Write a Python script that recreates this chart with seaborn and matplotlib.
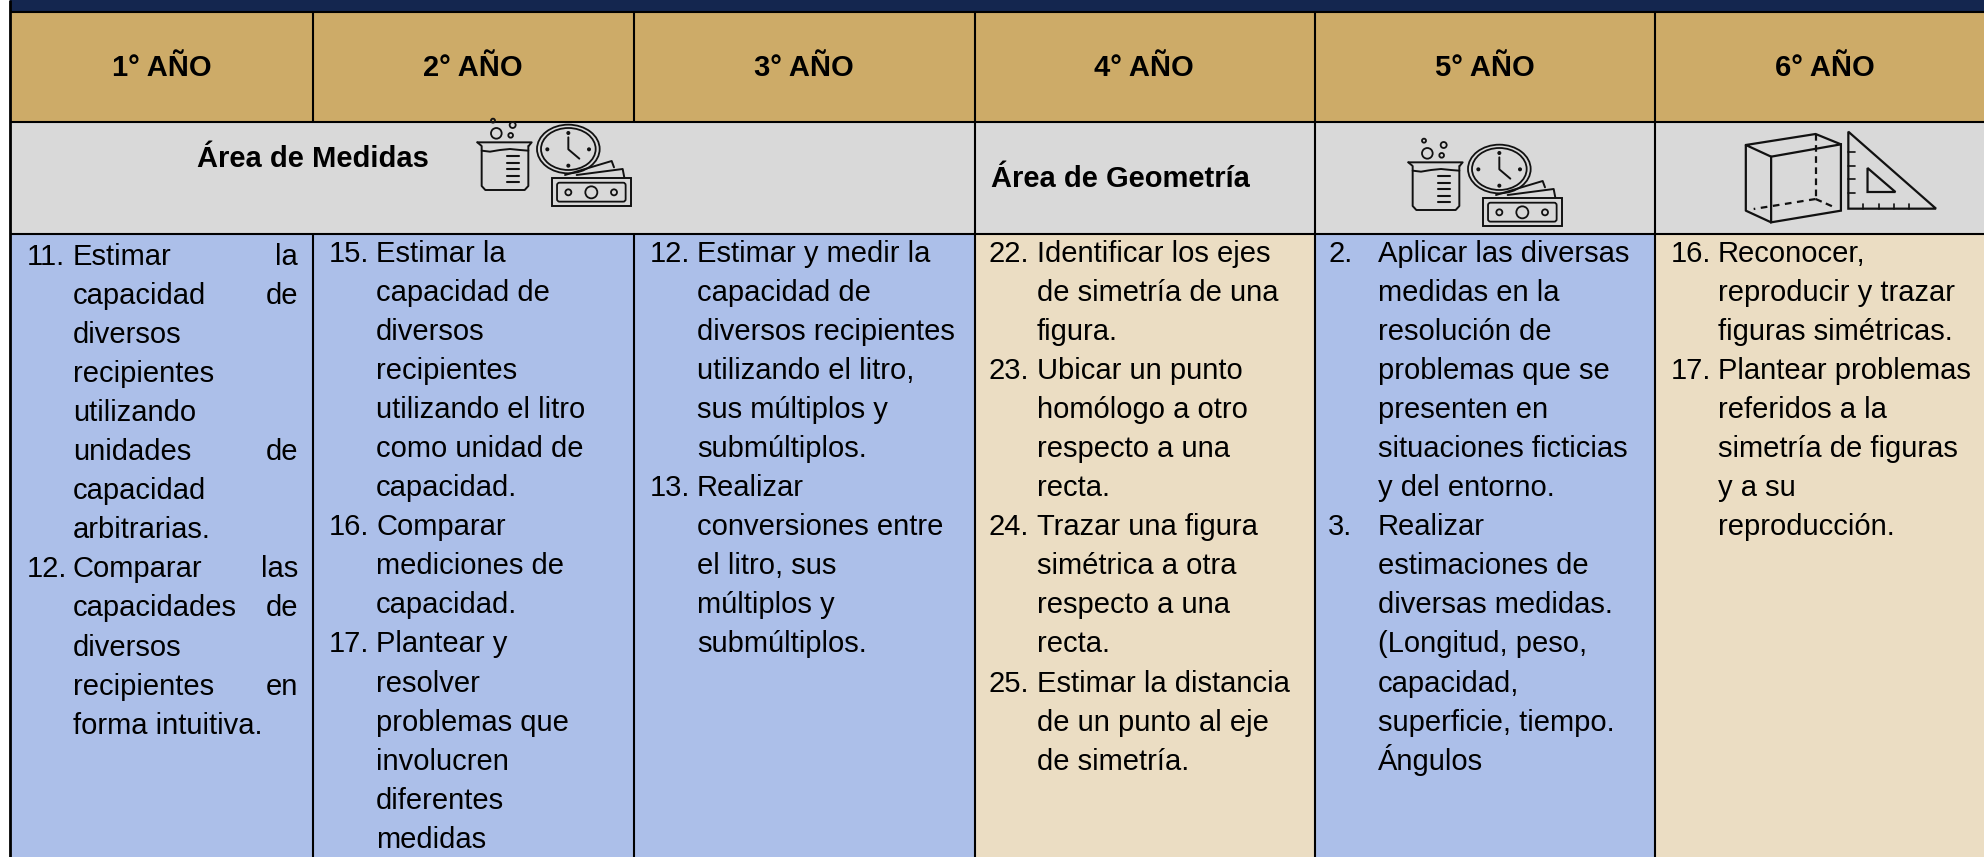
import numpy as np
import matplotlib
matplotlib.use("Agg")
import matplotlib.pyplot as plt
from matplotlib.colors import ListedColormap
from matplotlib.patches import Circle, Ellipse, FancyBboxPatch, Polygon, Rectangle
import seaborn as sns

# Table content
years = ["1° AÑO", "2° AÑO", "3° AÑO", "4° AÑO", "5° AÑO", "6° AÑO"]
area_medidas = "Área de Medidas"
area_geometria = "Área de Geometría"

# "|" marks a justified line: first word on the left, last word on the right
col1 = [("11.", ["Estimar|la", "capacidad|de", "diversos", "recipientes", "utilizando",
                 "unidades|de", "capacidad", "arbitrarias."]),
        ("12.", ["Comparar|las", "capacidades|de", "diversos", "recipientes|en", "forma intuitiva."])]
col2 = [("15.", ["Estimar la", "capacidad de", "diversos", "recipientes", "utilizando el litro",
                 "como unidad de", "capacidad."]),
        ("16.", ["Comparar", "mediciones de", "capacidad."]),
        ("17.", ["Plantear y", "resolver", "problemas que", "involucren", "diferentes", "medidas"])]
col3 = [("12.", ["Estimar y medir la", "capacidad de", "diversos recipientes", "utilizando el litro,",
                 "sus múltiplos y", "submúltiplos."]),
        ("13.", ["Realizar", "conversiones entre", "el litro, sus", "múltiplos y", "submúltiplos."])]
col4 = [("22.", ["Identificar los ejes", "de simetría de una", "figura."]),
        ("23.", ["Ubicar un punto", "homólogo a otro", "respecto a una", "recta."]),
        ("24.", ["Trazar una figura", "simétrica a otra", "respecto a una", "recta."]),
        ("25.", ["Estimar la distancia", "de un punto al eje", "de simetría."])]
col5 = [("2.", ["Aplicar las diversas", "medidas en la", "resolución de", "problemas que se",
                "presenten en", "situaciones ficticias", "y del entorno."]),
        ("3.", ["Realizar", "estimaciones de", "diversas medidas.", "(Longitud, peso,", "capacidad,",
                "superficie, tiempo.", "Ángulos"])]
col6 = [("16.", ["Reconocer,", "reproducir y trazar", "figuras simétricas."]),
        ("17.", ["Plantear problemas", "referidos a la", "simetría de figuras", "y a su", "reproducción."])]
columns = [col1, col2, col3, col4, col5, col6]

# Layout in pixels of the output image
W, H = 1984, 857
col_edges = [10, 313, 634, 975, 1315, 1655, 1984]
row_edges = [0, 12, 122, 234, 857]
header_x = [162, 473, 804, 1144, 1485, 1825]
num_x = [27, 329, 650, 989, 1328, 1671]
text_x = [73, 376, 697, 1037, 1378, 1718]
first_baseline = [265, 262, 262, 262, 262, 262]
line_pitch = 39.05
justify_right = 298

WHITE, NAVY, TAN, GRAY, BLUE, CREAM = range(6)
palette = ["#FFFFFF", "#14264F", "#CDAB68", "#D9D9D9", "#ACBFE9", "#EBDDC3"]
body_codes = [BLUE, BLUE, BLUE, CREAM, BLUE, CREAM]

# Cell colours as a matrix with one heatmap cell per pixel, so data coords = pixels
codes = np.array([[WHITE] + [NAVY] * 6,
                  [WHITE] + [TAN] * 6,
                  [WHITE] + [GRAY] * 6,
                  [WHITE] + body_codes])
widths = np.diff([0] + col_edges)
heights = np.diff(row_edges)
grid = np.repeat(np.repeat(codes, heights, axis=0), widths, axis=1)

sns.set_theme(style="white")
plt.rcParams["font.family"] = ["Liberation Sans", "DejaVu Sans"]

fig = plt.figure(figsize=(W / 100, H / 100), dpi=100)
ax = fig.add_axes([0, 0, 1, 1])
sns.heatmap(grid, ax=ax, cmap=ListedColormap(palette), vmin=0, vmax=5, cbar=False,
            xticklabels=False, yticklabels=False)
ax.set_xlim(0, W)
ax.set_ylim(H, 0)

# Borders
LW = 1.5
ax.vlines(col_edges[0], 0, H, color="black", lw=2)
ax.hlines(row_edges[1:3] + [row_edges[3]], col_edges[0], W, color="black", lw=LW)
ax.vlines(col_edges[1:3], row_edges[1], row_edges[2], color="black", lw=LW)
ax.vlines(col_edges[3:6], row_edges[1], H, color="black", lw=LW)
ax.vlines(col_edges[1:3], row_edges[3], H, color="black", lw=LW)

FS = 21
# Header row
for i, year in enumerate(years):
    ax.text(header_x[i], 65, year, ha="center", va="center_baseline",
            fontsize=FS, fontweight="bold", color="black")

ax.text(313, 156, area_medidas, ha="center", va="center_baseline", fontsize=FS, fontweight="bold", color="black")
ax.text(991, 176, area_geometria, ha="left", va="center_baseline", fontsize=FS, fontweight="bold", color="black")

# Body text
for c, items in enumerate(columns):
    line = 0
    for num, lines in items:
        y0 = first_baseline[c] + line * line_pitch
        ax.text(num_x[c], y0, num, ha="left", va="baseline", fontsize=FS, color="black")
        for txt in lines:
            y = first_baseline[c] + line * line_pitch
            if "|" in txt:
                left, right = txt.split("|")
                ax.text(text_x[c], y, left, ha="left", va="baseline", fontsize=FS, color="black")
                ax.text(justify_right, y, right, ha="right", va="baseline", fontsize=FS, color="black")
            else:
                ax.text(text_x[c], y, txt, ha="left", va="baseline", fontsize=FS, color="black")
            line += 1


def draw_medidas_icon(ax, dx, dy):
    # beaker, clock and banknote, sketched in 3x crop coordinates
    def P(x, y):
        return dx + x / 3, dy + y / 3

    def path(pts, lw=1.4, **kw):
        xs, ys = zip(*[P(*p) for p in pts])
        ax.plot(xs, ys, color="#111111", lw=lw, solid_capstyle="round", zorder=5, **kw)

    def ring(x, y, rx, ry=None, lw=1.3):
        ry = rx if ry is None else ry
        ax.add_patch(Ellipse(P(x, y), 2 * rx / 3, 2 * ry / 3, fill=False, ec="#111111", lw=lw, zorder=5))

    path([(52, 97), (215, 97), (206, 108)])
    path([(52, 97), (65, 108), (65, 228), (76, 240), (194, 240), (205, 228), (205, 108)])
    path([(65, 122), (90, 125), (120, 120), (150, 117), (180, 120), (205, 122)])
    for ty in [137, 158, 177, 197, 216]:
        path([(140, ty), (177, ty)], lw=1.5)
    ring(109, 70, 16)
    ring(152, 76, 7)
    ring(158, 45, 9)
    ring(99, 32, 6)
    ring(325, 117, 94, 73)
    ring(325, 117, 82, 63)
    path([(325, 82), (325, 118), (358, 146)])
    for p in [(325, 69), (325, 167), (262, 118), (387, 118)]:
        ax.add_patch(Circle(P(*p), 1.3, color="#111111", zorder=5))
    path([(315, 195), (455, 153), (462, 172)])
    path([(350, 195), (488, 177), (493, 203)])
    x0, y0 = P(275, 205)
    ax.add_patch(Rectangle((x0, y0), 238 / 3, 84 / 3, fill=False, ec="#111111", lw=1.4, zorder=5))
    x0, y0 = P(295, 222)
    ax.add_patch(FancyBboxPatch((x0, y0), 198 / 3, 49 / 3, boxstyle="round,pad=1.3,rounding_size=2.5",
                                fill=False, ec="#111111", lw=1.3, zorder=5))
    ring(394, 247, 18)
    ring(325, 247, 9)
    ring(462, 247, 9)


def draw_geometria_icon(ax):
    # box and set square, sketched in crop coordinates (x scale 2.29, y scale 3)
    def P(x, y):
        return 1300 + x / 2.2924, 100 + y / 3

    def path(pts, lw=1.6, **kw):
        xs, ys = zip(*[P(*p) for p in pts])
        ax.plot(xs, ys, color="#111111", lw=lw, zorder=5, **kw)

    ax.add_patch(Polygon([P(1080, 170), P(1240, 133), P(1240, 332), P(1080, 367)], closed=True,
                         fill=False, ec="#111111", lw=1.6, zorder=5))
    path([(1080, 170), (1022, 135), (1182, 102), (1240, 133)])
    path([(1022, 135), (1022, 332), (1080, 367)])
    path([(1182, 102), (1182, 297)], ls=(0, (3, 2)))
    path([(1182, 297), (1040, 327)], ls=(0, (3, 2.5)))
    path([(1182, 297), (1222, 320)], ls=(0, (3, 2)))
    ax.add_patch(Polygon([P(1257, 95), P(1257, 326), P(1458, 326)], closed=True,
                         fill=False, ec="#111111", lw=1.6, zorder=5))
    ax.add_patch(Polygon([P(1301, 204), P(1301, 276), P(1365, 276)], closed=True,
                         fill=False, ec="#111111", lw=1.6, zorder=5))
    for ty in [155, 197, 238, 278]:
        path([(1257, ty), (1273, ty)], lw=1.2)
    for tx in [1290, 1327, 1362, 1397]:
        path([(tx, 326), (tx, 311)], lw=1.2)


draw_medidas_icon(ax, 460, 110)
draw_medidas_icon(ax, 1391, 130)
draw_geometria_icon(ax)

fig.savefig("out.png", dpi=100)
